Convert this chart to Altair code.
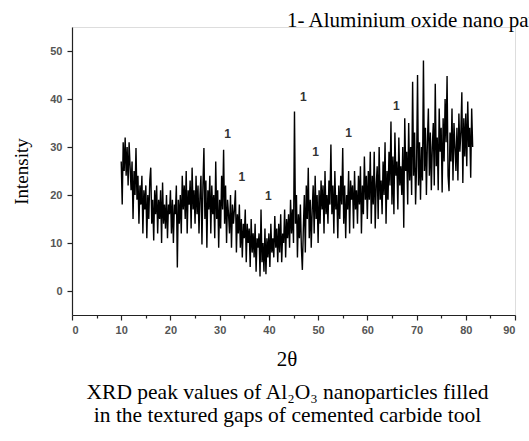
import altair as alt
import pandas as pd

# 2-theta grid (degrees) and intensity
two_theta_start = 10.0
two_theta_step = 0.2
intensity = [
    27, 18, 31, 25, 32,
    24, 30, 22, 31, 26,
    21, 27, 15, 25, 20,
    29.8, 19, 24, 14, 22,
    18, 24, 12, 21, 17,
    22, 11, 20, 15, 23,
    25.7, 14, 19, 10.5, 21,
    16, 22, 12, 19, 15,
    21, 10, 22.6, 14, 18,
    13, 20, 11, 18, 16,
    21, 12, 19, 10, 18,
    16, 22, 4.9, 19, 14,
    20, 12, 24, 17, 22,
    15, 25, 12, 21, 18,
    23, 13, 25.7, 17, 21,
    14, 24, 16, 22, 12,
    20, 24, 9.7, 22, 29.8,
    15, 23, 9, 21, 17,
    24, 12, 22, 16, 20,
    11, 27, 15, 21, 9,
    19, 13, 24, 17, 29.4,
    14, 22, 10, 19, 16,
    12, 20, 9, 18, 14,
    17, 21, 8, 16, 12,
    18, 9, 15, 7, 14,
    11, 17, 6, 14, 10,
    13, 5, 15, 8, 12,
    7, 14, 4, 11, 9,
    12, 3, 17, 6, 10,
    4, 13, 3.5, 11, 7,
    12, 5, 14, 8, 11,
    7, 15.6, 9, 13, 6,
    14, 8, 16, 6, 12,
    10, 17, 7, 15, 11,
    16, 9, 19, 12, 17,
    10, 37.4, 14, 20, 7,
    16, 11, 18, 9, 4.4,
    13, 20, 8, 22, 15,
    25.7, 11, 19, 9, 17,
    22, 12, 24, 15, 20,
    10, 21, 14, 23, 17,
    22, 12, 25, 16, 20,
    14, 23, 18, 30.5, 16,
    22, 12, 25, 17, 20,
    11, 22, 15, 24, 18,
    29.8, 14, 22, 11, 20,
    17, 25, 12, 23, 19,
    22, 13, 25, 17, 21,
    14, 24, 18, 26, 12,
    22, 16, 28, 19, 24,
    15, 25, 19, 29, 14,
    24, 18, 29, 13, 22,
    26, 15, 30, 19, 23,
    16, 27, 20, 31, 14,
    25, 19, 29, 22, 35.3,
    18, 28, 16, 33, 24,
    27, 17, 32, 22, 26,
    20, 30, 13.2, 36, 25,
    29, 18, 35, 23, 30,
    20, 43.6, 24, 33, 18,
    26, 45, 22, 31, 19,
    30, 23, 48, 25, 34,
    20, 31, 38, 24, 33,
    21, 30, 35, 22, 43.2,
    26, 32, 21, 38, 29,
    34, 20.5, 36, 27, 40,
    31, 44.8, 24, 20.8, 33,
    27, 38, 23, 35, 30,
    25, 34, 23, 37, 29,
    33, 41.4, 22.5, 36, 28,
    37, 26, 39.5, 30, 34,
    23.6, 38, 30,
]
two_theta = [round(two_theta_start + i * two_theta_step, 2) for i in range(len(intensity))]

# peak markers "1"
peak_two_theta = [31.6, 34.5, 39.9, 47.0, 49.5, 56.2, 65.9]
peak_intensity = [31.2, 22.2, 18.4, 39.0, 27.6, 31.5, 37.1]
peak_label = ["1", "1", "1", "1", "1", "1", "1"]

x_tick_values = [0, 5, 10, 15, 20, 25, 30, 35, 40, 45, 50, 55, 60, 65, 70, 75, 80, 85, 90]
y_tick_values = [0, 5, 10, 15, 20, 25, 30, 35, 40, 45, 50]

title_text = "1- Aluminium oxide nano particles"
caption_lines = ["XRD peak values of Al\u2082O\u2083 nanoparticles filled",
                 "in the textured gaps of cemented carbide tool"]

df = pd.DataFrame({"two_theta": two_theta, "intensity": intensity})
peaks = pd.DataFrame({"two_theta": peak_two_theta, "intensity": peak_intensity, "label": peak_label})

SERIF = "Liberation Serif"
SANS = "Liberation Sans"
major_test = "datum.value % 10 === 0"

x_scale = alt.Scale(domain=[0, 90], nice=False, zero=False)
y_scale = alt.Scale(domain=[-5, 55], nice=False, zero=False)

x_axis = alt.Axis(
    values=x_tick_values,
    labelExpr=f"{major_test} ? datum.label : ''",
    tickSize={"condition": {"test": major_test, "value": 5}, "value": 3},
    grid=False, domainColor="#222", tickColor="#222", domainWidth=1.2, tickWidth=1.2,
    labelFont=SANS, labelFontSize=11, labelFontWeight="bold", labelColor="#555",
    labelPadding=4,
    title="2\u03b8", titleFont=SERIF, titleFontSize=21, titleFontWeight="normal",
    titleColor="black", titleX=214.5, titleAlign="center", titlePadding=13,
)
y_axis = alt.Axis(
    values=y_tick_values,
    labelExpr=f"{major_test} ? datum.label : ''",
    tickSize={"condition": {"test": major_test, "value": 5}, "value": 3},
    grid=False, domainColor="#222", tickColor="#222", domainWidth=1.2, tickWidth=1.2,
    labelFont=SANS, labelFontSize=11, labelFontWeight="bold", labelColor="#555",
    labelPadding=5,
    title="Intensity", titleFont=SERIF, titleFontSize=19, titleFontWeight="normal",
    titleColor="black", titleX=-45, titleY=144, titleBaseline="alphabetic",
    titleAngle=270,
)
top_axis = alt.Axis(
    orient="top", labels=False, ticks=False, domain=False, grid=False,
    title=title_text, titleFont=SERIF, titleFontSize=21, titleFontWeight="normal",
    titleColor="black", titleX=214.5, titleY=-1, titleAlign="left",
    titleAnchor="start", titleBaseline="alphabetic",
)

line = alt.Chart(df).mark_line(color="black", strokeWidth=1.4).encode(
    x=alt.X("two_theta:Q", scale=x_scale, axis=x_axis),
    y=alt.Y("intensity:Q", scale=y_scale, axis=y_axis),
)

labels = alt.Chart(peaks).mark_text(
    font=SANS, fontSize=12, fontWeight="bold", color="#333", baseline="bottom", align="center"
).encode(
    x=alt.X("two_theta:Q", scale=x_scale, axis=top_axis),
    y=alt.Y("intensity:Q", scale=y_scale),
    text="label:N",
)

chart = alt.layer(line, labels).resolve_axis(x="independent").properties(
    width=443,
    height=288,
    autosize=alt.AutoSizeParams(type="none"),
    padding={"left": 72, "top": 27, "right": 14, "bottom": 126},
    title=alt.Title(
        caption_lines, orient="bottom", anchor="middle", font=SERIF, fontSize=21.5,
        fontWeight="normal", color="black", lineHeight=23, offset=13, dx=-6,
    ),
).configure_view(stroke=None).configure(background="white")

chart.save("out.html", embed_options={"renderer": "svg", "actions": False})
